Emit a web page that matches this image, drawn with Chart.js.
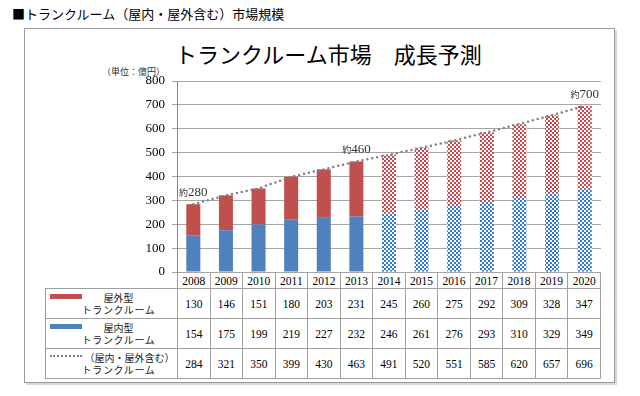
<!DOCTYPE html>
<html>
<head>
<meta charset="utf-8">
<script src="https://cdn.jsdelivr.net/npm/chart.js@4"></script>
<style>
body { margin: 0; width: 640px; height: 396px; background: #fff; position: relative; overflow: hidden;
       font-family: "Noto Sans CJK JP", sans-serif; color: #000; }
#head { position: absolute; left: 12px; top: 6px; font-size: 13px; line-height: 16px; }
#frame { position: absolute; left: 24px; top: 28px; width: 589px; height: 353px;
         border: 1px solid #9a9a9a; box-shadow: 2px 2px 0 #d8d8d8; }
#title { position: absolute; left: 175px; top: 40px; font-size: 22px; line-height: 26px; white-space: nowrap; }
#unit { position: absolute; left: 102px; top: 66px; font-size: 9px; line-height: 11px; color: #333; }
#c { position: absolute; left: 0; top: 0; }
#tbl { position: absolute; left: 45px; top: 272px; width: 556px; border-collapse: collapse; table-layout: fixed; }
#tbl td { border: 1px solid #a0a0a0; padding: 0; text-align: center;
          font-family: "Liberation Serif", serif; font-size: 11.5px; }
#tbl tr.hd td { height: 15px; font-size: 11.5px; }
#tbl tr.hd td.blank { border-top: none; border-left: none; }
#tbl tr.row td { height: 29px; }
#tbl td.lg { position: relative; font-family: "Noto Sans CJK JP", sans-serif; font-size: 10px; line-height: 12px; color: #222; }
.sw { position: absolute; left: 4px; top: 5px; width: 32px; height: 5px; }
.dots { position: absolute; left: 4px; top: 6px; width: 32px; height: 0; border-top: 2px dotted #808080; }
.ln { display: block; text-align: center; white-space: nowrap; }
.wide { letter-spacing: 0.6px; }
</style>
</head>
<body>
<div id="head">■トランクルーム（屋内・屋外含む）市場規模</div>
<div id="frame"></div>
<div id="title">トランクルーム市場　成長予測</div>
<div id="unit">（単位：億円）</div>
<table id="tbl"></table>
<canvas id="c" width="640" height="396"></canvas>
<script>
const years = ['2008', '2009', '2010', '2011', '2012', '2013', '2014', '2015', '2016', '2017', '2018', '2019', '2020'];
const outdoor = [130, 146, 151, 180, 203, 231, 245, 260, 275, 292, 309, 328, 347];
const indoor = [154, 175, 199, 219, 227, 232, 246, 261, 276, 293, 310, 329, 349];
const total = [284, 321, 350, 399, 430, 463, 491, 520, 551, 585, 620, 657, 696];
const forecastFrom = 6; // 2014以降は予測
const noteIdx = [0, 5, 12];
const noteText = ['280', '460', '700'];

const RED = '#c0504d';
const BLUE = '#4f81bd';

const canvas = document.getElementById('c');
const ctx = canvas.getContext('2d');

function checker(color) {
    const c = document.createElement('canvas');
    c.width = 4;
    c.height = 4;
    const g = c.getContext('2d');
    g.fillStyle = '#fff';
    g.fillRect(0, 0, 4, 4);
    g.fillStyle = color;
    g.fillRect(0, 0, 2, 2);
    g.fillRect(2, 2, 2, 2);
    return ctx.createPattern(c, 'repeat');
}

const redPattern = checker('#c9474d');
const bluePattern = checker('#2f7bcf');
const fills = (solid, pattern) => years.map((y, i) => i < forecastFrom ? solid : pattern);

// table under the chart
function buildTable() {
    const table = document.getElementById('tbl');
    let html = '<colgroup><col style="width:132px">' + years.map(() => '<col>').join('') + '</colgroup>';
    html += '<tr class="hd"><td class="blank"></td>' + years.map(y => `<td>${y}</td>`).join('') + '</tr>';

    const rows = [
        { key: `<i class="sw" style="background:${RED}"></i>`, l1: '屋外型', l2: 'トランクルーム', pad1: 14, pad2: 14, values: outdoor },
        { key: `<i class="sw" style="background:${BLUE}"></i>`, l1: '屋内型', l2: 'トランクルーム', pad1: 14, pad2: 14, values: indoor },
        { key: '<i class="dots"></i>', l1: '（屋内・屋外含む）', l2: 'トランクルーム', pad1: 36, pad2: 14, values: total }
    ];
    rows.forEach(r => {
        html += '<tr class="row"><td class="lg">' + r.key +
            `<span class="ln" style="padding-left:${r.pad1}px">${r.l1}</span>` +
            `<span class="ln wide" style="padding-left:${r.pad2}px">${r.l2}</span></td>` +
            r.values.map(v => `<td>${v}</td>`).join('') + '</tr>';
    });
    table.innerHTML = html;
}
buildTable();

const notesPlugin = {
    id: 'notes',
    afterDatasetsDraw(chart) {
        const meta = chart.getDatasetMeta(2);
        const c = chart.ctx;
        c.save();
        c.fillStyle = '#333';
        c.textBaseline = 'alphabetic';
        noteIdx.forEach((idx, k) => {
            const p = meta.data[idx];
            c.font = '9px "Noto Sans CJK JP"';
            const w1 = c.measureText('約').width;
            c.font = '13px "Liberation Serif"';
            const w2 = c.measureText(noteText[k]).width;
            const x0 = p.x - (w1 + w2) / 2;
            const yb = p.y - 8;
            c.font = '9px "Noto Sans CJK JP"';
            c.fillText('約', x0, yb);
            c.font = '13px "Liberation Serif"';
            c.fillText(noteText[k], x0 + w1, yb);
        });
        c.restore();
    }
};

new Chart(ctx, {
    type: 'bar',
    data: {
        labels: years,
        datasets: [
            {
                label: '屋内型トランクルーム',
                data: indoor,
                backgroundColor: fills(BLUE, bluePattern),
                stack: 'bars',
                order: 1
            },
            {
                label: '屋外型トランクルーム',
                data: outdoor,
                backgroundColor: fills(RED, redPattern),
                stack: 'bars',
                order: 1
            },
            {
                type: 'line',
                label: '（屋内・屋外含む）トランクルーム',
                data: total,
                borderColor: '#808080',
                borderWidth: 2.5,
                borderDash: [0, 5],
                borderCapStyle: 'round',
                pointRadius: 0,
                tension: 0,
                fill: false,
                stack: 'total',
                order: 0
            }
        ]
    },
    options: {
        responsive: false,
        animation: false,
        layout: { padding: { left: 0, top: 81, right: 39, bottom: 124 } },
        datasets: {
            bar: { categoryPercentage: 1, barPercentage: 0.43 }
        },
        scales: {
            x: {
                stacked: true,
                grid: { display: false },
                border: { display: false },
                ticks: { display: false },
                afterFit: (scale) => { scale.height = 0; }
            },
            y: {
                stacked: true,
                min: 0,
                max: 800,
                ticks: {
                    stepSize: 100,
                    color: '#000',
                    padding: 7,
                    font: { family: '"Liberation Serif"', size: 13 }
                },
                grid: { color: '#a6a6a6', tickLength: 5 },
                border: { color: '#868686' },
                afterFit: (scale) => { scale.width = 177; }
            }
        },
        plugins: {
            legend: { display: false },
            tooltip: { enabled: false }
        }
    },
    plugins: [notesPlugin]
});
</script>
</body>
</html>
